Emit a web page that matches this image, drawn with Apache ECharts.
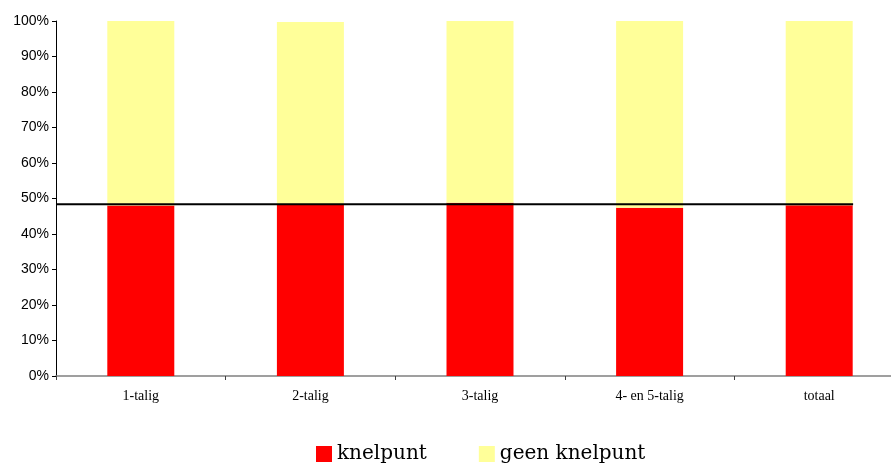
<!DOCTYPE html>
<html>
<head>
<meta charset="utf-8">
<script src="https://cdn.jsdelivr.net/npm/echarts@6/dist/echarts.min.js"></script>
<style>
  html, body { margin: 0; padding: 0; background: #fff; }
  #chart { width: 891px; height: 464px; }
</style>
</head>
<body>
<div id="chart"></div>
<script>
var categories = ['1-talig', '2-talig', '3-talig', '4- en 5-talig', 'totaal'];
var knelpunt = [48.0, 48.3, 48.8, 47.4, 48.1];
var geenKnelpunt = [52.0, 51.4, 51.2, 52.6, 51.9];
var yTicks = [0, 10, 20, 30, 40, 50, 60, 70, 80, 90, 100];
// reference line: level and how far it runs (in category units)
var refLevel = 48.4;
var refLine = [[0, refLevel], [4.70, refLevel]];

var dom = document.getElementById('chart');
var myChart = echarts.init(dom);

var option = {
    backgroundColor: '#ffffff',
    animation: false,
    grid: { left: 56, right: -13, top: 21, bottom: 88, outerBoundsMode: 'none', containLabel: false },
    legend: {
        data: ['knelpunt', 'geen knelpunt'],
        left: 316,
        top: 444,
        padding: 0,
        itemWidth: 16,
        itemHeight: 16,
        itemGap: 52,
        icon: 'rect',
        textStyle: { fontFamily: 'DejaVu Serif', fontSize: 20, color: '#000' }
    },
    xAxis: [{
        type: 'category',
        data: categories,
        axisLine: { lineStyle: { color: '#808080', width: 1.5 } },
        axisTick: { show: true, length: 4, lineStyle: { color: '#404040' } },
        axisLabel: { fontFamily: 'Liberation Serif', fontSize: 14, color: '#000', margin: 13 }
    }, {
        type: 'value',
        min: 0,
        max: 5,
        show: false
    }],
    yAxis: {
        type: 'value',
        min: 0,
        max: 100,
        interval: 10,
        axisLine: { show: true, lineStyle: { color: '#000' } },
        axisTick: { show: true, length: 4, lineStyle: { color: '#000' } },
        splitLine: { show: false },
        axisLabel: {
            fontFamily: 'Liberation Sans', fontSize: 14, color: '#000', margin: 7,
            formatter: function (v) { return yTicks.indexOf(v) >= 0 ? v + '%' : ''; }
        }
    },
    series: [
        {
            name: 'knelpunt', type: 'bar', stack: 'tot', barWidth: '39.5%',
            itemStyle: { color: '#ff0000' }, data: knelpunt
        },
        {
            name: 'geen knelpunt', type: 'bar', stack: 'tot', barWidth: '39.5%',
            itemStyle: { color: '#ffff99' }, data: geenKnelpunt
        },
        {
            name: 'ref', type: 'line', xAxisIndex: 1, symbol: 'none',
            lineStyle: { color: '#000', width: 2 }, data: refLine, z: 5
        }
    ]
};

myChart.setOption(option);
</script>
</body>
</html>
